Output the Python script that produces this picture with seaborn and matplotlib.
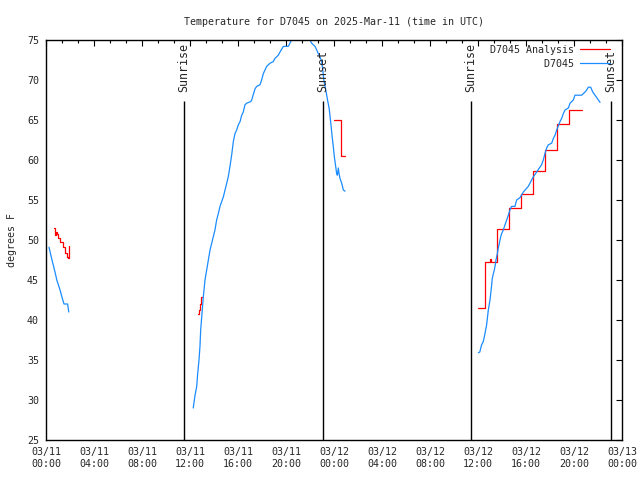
import pandas as pd
import matplotlib
matplotlib.use('Agg')
import matplotlib.pyplot as plt
import matplotlib.dates as mdates
from matplotlib.ticker import AutoMinorLocator, MultipleLocator
from matplotlib.lines import Line2D
import seaborn as sns

inicio = pd.Timestamp('2025-03-11 00:00')

# D7045 observations: hours after 03/11 00:00 UTC, deg F (3 segments)
obs_horas_1 = [0.25, 0.5, 0.75, 0.9, 1.17, 1.4, 1.5, 1.8, 1.9]
obs_temp_1 = [49.1, 47.5, 46.0, 45.0, 43.75, 42.5, 42.0, 42.0, 41.0]

obs_horas_2 = [12.27, 12.42, 12.56, 12.64, 12.75, 12.83, 12.89, 12.97, 13.11, 13.25,
               13.39, 13.53, 13.67, 13.81, 13.94, 14.08, 14.22, 14.36, 14.5, 14.64,
               14.78, 14.92, 15.06, 15.19, 15.33, 15.47, 15.61, 15.75, 15.89, 16.03,
               16.17, 16.31, 16.44, 16.58, 16.72, 17.06, 17.14, 17.28, 17.42, 17.56,
               17.83, 17.97, 18.11, 18.25, 18.39, 18.67, 18.94, 19.08, 19.36, 19.5,
               19.78, 20.19, 20.33, 20.47, 20.75, 21.0, 21.3, 21.6, 21.85, 22.0,
               22.14, 22.42, 22.56, 22.69, 22.83, 22.97, 23.07, 23.15, 23.3, 23.45,
               23.6, 23.72, 23.84, 23.94, 24.03, 24.14, 24.22, 24.28, 24.36, 24.42,
               24.5, 24.64, 24.78, 24.92]
obs_temp_2 = [29.0, 30.6, 31.7, 33.3, 35.0, 36.7, 38.75, 40.25, 42.9, 45.0,
              46.25, 47.5, 48.75, 49.6, 50.4, 51.25, 52.5, 53.3, 54.2, 54.8,
              55.4, 56.25, 57.1, 57.9, 59.2, 60.6, 62.3, 63.3, 63.75, 64.4,
              64.8, 65.6, 66.0, 66.9, 67.1, 67.3, 67.5, 68.2, 68.9, 69.2,
              69.4, 70.0, 70.8, 71.25, 71.7, 72.1, 72.3, 72.7, 73.1, 73.5,
              74.2, 74.2, 74.6, 75.0, 75.5, 75.8, 76.0, 75.7, 75.3, 75.0,
              74.6, 74.2, 73.75, 73.3, 72.9, 72.3, 71.2, 70.0, 68.9, 67.6,
              66.4, 64.8, 63.0, 61.7, 60.4, 59.2, 58.3, 58.1, 59.0, 58.3,
              57.7, 57.1, 56.25, 56.1]

obs_horas_3 = [36.03, 36.15, 36.3, 36.44, 36.58, 36.72, 36.78, 36.86, 37.0, 37.06,
               37.14, 37.19, 37.28, 37.36, 37.44, 37.5, 37.61, 37.69, 37.78, 37.89,
               37.97, 38.11, 38.25, 38.39, 38.53, 38.67, 38.8, 39.08, 39.22, 39.5,
               39.78, 40.19, 40.33, 40.61, 40.89, 41.11, 41.3, 41.44, 41.58, 41.72,
               41.86, 42.14, 42.28, 42.42, 42.56, 42.69, 42.83, 42.97, 43.11, 43.25,
               43.53, 43.67, 43.94, 44.08, 44.64, 44.92, 45.06, 45.19, 45.39, 45.56,
               45.75, 45.94, 46.17]
obs_temp_3 = [35.9, 36.0, 36.9, 37.3, 38.3, 39.4, 40.2, 41.25, 42.5, 43.3,
              44.4, 45.2, 45.8, 46.25, 46.9, 47.5, 48.3, 49.0, 49.6, 50.4,
              50.8, 51.25, 51.9, 52.5, 53.1, 53.8, 54.2, 54.2, 55.0, 55.3,
              56.0, 56.7, 57.1, 57.9, 58.5, 59.0, 59.4, 60.0, 60.8, 61.5,
              61.9, 62.1, 62.7, 63.1, 63.75, 64.25, 64.8, 65.2, 65.8, 66.25,
              66.5, 67.1, 67.5, 68.1, 68.1, 68.5, 68.75, 69.1, 69.1, 68.5,
              68.1, 67.7, 67.2]

# D7045 Analysis (step values, 4 segments)
ana_horas_1 = [0.67, 0.72, 0.8, 0.88, 1.0, 1.2, 1.4, 1.6, 1.75, 1.83, 1.88, 1.94]
ana_temp_1 = [51.5, 50.6, 51.0, 50.8, 50.3, 49.7, 49.1, 48.4, 47.9, 47.75, 48.6, 49.2]
ana_horas_2 = [12.67, 12.75, 12.83, 12.92, 13.0]
ana_temp_2 = [40.75, 41.3, 42.0, 42.9, 42.9]
ana_horas_3 = [24.0, 24.55, 24.92]
ana_temp_3 = [65.0, 60.5, 60.5]
ana_horas_4 = [36.0, 36.55, 36.62, 37.0, 37.08, 37.58, 38.55, 39.6, 40.55, 41.55,
               42.6, 43.6, 44.65]
ana_temp_4 = [41.5, 46.0, 47.25, 47.6, 47.25, 51.4, 54.0, 55.8, 58.6, 61.3,
              64.5, 66.2, 66.2]

# Sunrise / sunset
sol_rotulos = ['Sunrise', 'Sunset', 'Sunrise', 'Sunset']
sol_horas = [11.5, 23.08, 35.42, 47.1]


def monta_df(lista_horas, lista_temp):
    partes = []
    for i, (h, t) in enumerate(zip(lista_horas, lista_temp)):
        partes.append(pd.DataFrame({'hora': inicio + pd.to_timedelta(h, unit='h'),
                                    'temp': t, 'seg': i}))
    return pd.concat(partes, ignore_index=True)


df_obs = monta_df([obs_horas_1, obs_horas_2, obs_horas_3],
                  [obs_temp_1, obs_temp_2, obs_temp_3])
df_ana = monta_df([ana_horas_1, ana_horas_2, ana_horas_3, ana_horas_4],
                  [ana_temp_1, ana_temp_2, ana_temp_3, ana_temp_4])

sns.set_style('white')
plt.rcParams['font.family'] = ['DejaVu Sans Mono']
plt.rcParams['font.size'] = 7.2

cor_vermelho = '#ff0000'
cor_azul = '#1a8cff'
lw = 0.9

fig = plt.figure(figsize=(6.4, 4.8), dpi=100)
ax = fig.add_axes([46 / 640, 40 / 480, 576 / 640, 400 / 480])

sns.lineplot(data=df_ana, x='hora', y='temp', units='seg', estimator=None, sort=False,
             color=cor_vermelho, lw=lw, drawstyle='steps-post', ax=ax)
sns.lineplot(data=df_obs, x='hora', y='temp', units='seg', estimator=None, sort=False,
             color=cor_azul, lw=lw, ax=ax)

# Linhas do nascer/por do sol
for rot, h in zip(sol_rotulos, sol_horas):
    t = inicio + pd.to_timedelta(h, unit='h')
    ax.vlines(t, 25, 67.4, color='black', lw=1)
    ax.text(t, 68.5, rot, rotation=90, ha='center', va='bottom', fontsize=8.4)

ax.set_xlim(inicio, inicio + pd.Timedelta(hours=48))
ax.set_ylim(25, 75)
ax.xaxis.set_major_locator(mdates.HourLocator(byhour=range(0, 24, 4)))
ax.xaxis.set_major_formatter(mdates.DateFormatter('%m/%d\n%H:%M'))
ax.xaxis.set_minor_locator(AutoMinorLocator(3))
ax.yaxis.set_major_locator(MultipleLocator(5))

for s in ax.spines.values():
    s.set_color('black')
    s.set_linewidth(1)
ax.tick_params(which='both', direction='in', top=True, right=True, color='black',
               width=0.8, labelsize=7.2)
ax.tick_params(which='major', length=4.5, pad=5)
ax.tick_params(which='minor', length=2.5)
for lab in ax.get_xticklabels():
    lab.set_ha('center')

ax.set_xlabel('')
ax.set_ylabel('degrees F')
ax.yaxis.set_label_coords(-0.050, 0.5)
ax.set_title('Temperature for D7045 on 2025-Mar-11 (time in UTC)', pad=11, fontsize=7.2)

handles = [Line2D([], [], color=cor_vermelho, lw=lw), Line2D([], [], color=cor_azul, lw=lw)]
ax.legend(handles, ['D7045 Analysis', '         D7045'], loc='upper right', frameon=False,
          markerfirst=False, handlelength=3.0, labelspacing=0.4, borderaxespad=0,
          borderpad=0.5, handletextpad=0.6, bbox_to_anchor=(1 - 7 / 576, 1.0))

fig.savefig('out.png', dpi=100)
